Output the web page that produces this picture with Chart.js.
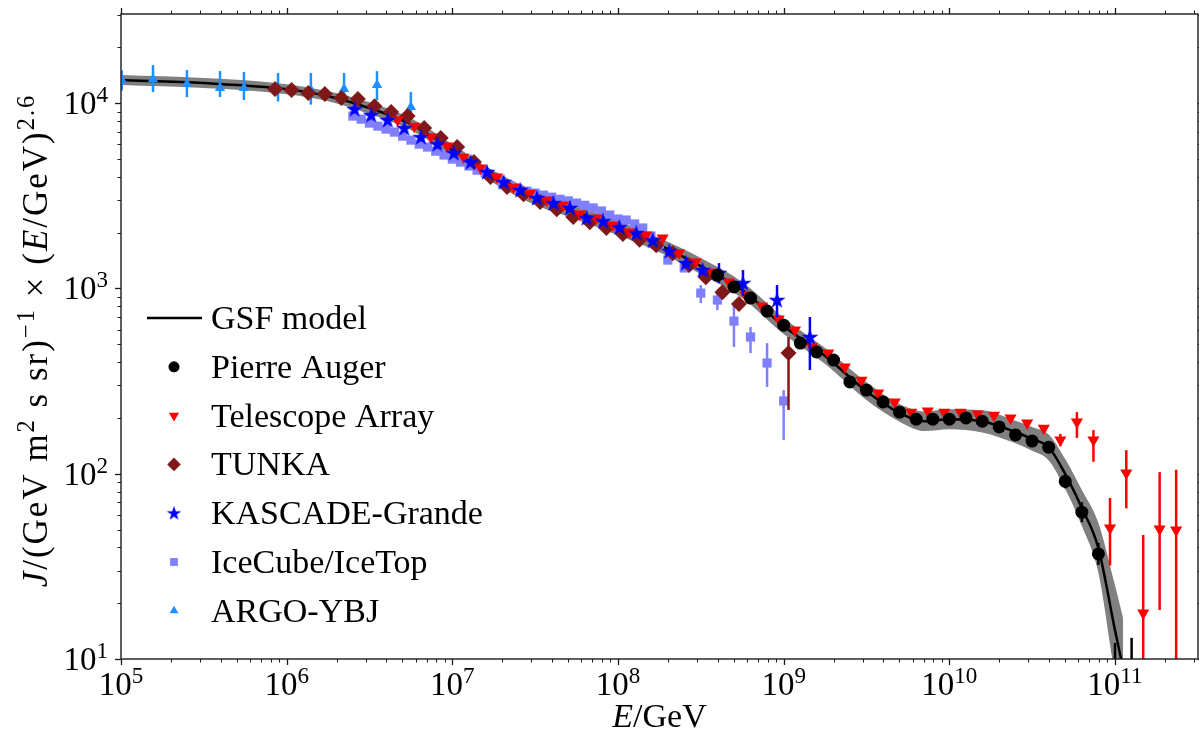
<!DOCTYPE html>
<html>
<head>
<meta charset="utf-8">
<script src="https://cdn.jsdelivr.net/npm/chart.js@4.4.1/dist/chart.umd.min.js"></script>
<style>
  html, body { margin: 0; padding: 0; background: #fff; overflow: hidden; }
  canvas { display: block; }
</style>
</head>
<body>
<canvas id="chart" width="1199" height="735"></canvas>
<script>
// energy E in GeV, flux given as J * E^2.6
const modelE = [1e5, 3.16e5, 1e6, 1.78e6, 3.16e6, 5.62e6, 1e7, 1.78e7, 3.16e7, 5.62e7, 1e8, 1.78e8, 3.16e8, 5.62e8, 1e9,
  1.78e9, 3.16e9, 5.01e9, 7.08e9, 1e10, 1.58e10, 2.51e10, 3.16e10, 3.98e10, 5.01e10, 6.31e10, 7.94e10, 1e11, 1.12e11];
const modelJ = [13330, 12840, 11910, 10910, 9410, 7710, 5580, 3990, 3080, 2580, 2120, 1715, 1321, 980, 627,
  432, 279, 213, 192, 197, 192, 168, 154, 139, 99.6, 65.3, 39.7, 14.3, 8.9];
const modelLo = [12530, 12070, 11190, 10250, 8740, 7160, 5180, 3700, 2820, 2360, 1940, 1570, 1195, 887, 567,
  391, 250, 191, 170, 174, 167, 146, 133, 118, 82.7, 52.2, 29.1, 8.2, 4.8];
const modelHi = [14180, 13660, 12670, 11610, 10130, 8300, 6010, 4300, 3360, 2810, 2310, 1870, 1460, 1083, 693,
  477, 312, 238, 217, 223, 220, 193, 179, 163, 120, 81.7, 54.2, 25.0, 16.6];

const augerE = [3.98e8, 5.01e8, 6.31e8, 7.94e8, 1.00e9, 1.26e9, 1.58e9, 2.00e9, 2.51e9, 3.16e9, 3.98e9, 5.01e9, 6.31e9,
  7.94e9, 1.00e10, 1.26e10, 1.58e10, 2.00e10, 2.51e10, 3.16e10, 3.98e10, 5.01e10, 6.31e10, 7.94e10, 1.00e11, 1.26e11];
const augerJ = [1180, 1019, 887, 755, 634, 507, 454, 411, 313, 283, 244, 215, 197,
  197, 197, 200, 192, 179, 162, 150, 139, 91, 62, 36.9, 7, 6];
const augerLo = Array(21).fill(null).concat([83.4, 54.8, 32.2, 3, 3]);
const augerHi = Array(21).fill(null).concat([99.3, 70.2, 42.3, 12.2, 13]);

const taE = [4.68e6, 5.89e6, 7.41e6, 9.33e6, 1.17e7, 1.48e7, 1.86e7, 2.34e7, 2.95e7, 3.72e7, 4.68e7, 5.89e7, 7.41e7, 9.33e7,
  1.17e8, 1.48e8, 1.86e8, 2.34e8, 2.95e8, 3.72e8, 4.68e8, 5.89e8, 7.41e8, 9.33e8, 1.17e9, 1.48e9, 1.86e9, 2.34e9,
  2.95e9, 3.72e9, 4.68e9, 5.89e9, 7.41e9, 9.33e9, 1.17e10, 1.48e10, 1.86e10, 2.34e10, 2.95e10, 3.72e10, 4.68e10,
  5.89e10, 7.41e10, 9.33e10, 1.17e11, 1.48e11, 1.86e11, 2.34e11];
const taJ = [8110, 7520, 6560, 5870, 5110, 4470, 3990, 3520, 3270, 3000, 2820, 2520, 2400, 2200,
  2015, 1942, 1871, 1553, 1388, 1225, 1083, 921, 803, 684, 597, 483, 448, 377,
  320, 273, 244, 215, 218, 215, 215, 210, 207, 200, 188, 176, 152,
  190, 152, 51, 101, 17.7, 50.3, 49.7];
const taLo = Array(40).fill(null).concat([141, 156, 116, 32, 65, 1, 18.4, 1]);
const taHi = Array(40).fill(null).concat([164, 215, 172, 74, 134, 46.7, 102, 105]);

const tunkaE = [8.51e5, 1.07e6, 1.35e6, 1.70e6, 2.14e6, 2.69e6, 3.39e6, 4.27e6, 5.37e6, 6.76e6, 8.51e6, 1.07e7, 1.35e7,
  1.70e7, 2.14e7, 2.69e7, 3.39e7, 4.27e7, 5.37e7, 6.76e7, 8.51e7, 1.07e8, 1.35e8, 1.70e8, 2.14e8, 2.69e8, 3.39e8,
  4.27e8, 5.37e8, 1.07e9];
const tunkaJ = [11920, 11780, 11350, 11200, 10660, 10520, 9640, 8950, 8520, 7340, 6480, 5800, 4820,
  4000, 3530, 3230, 2930, 2680, 2430, 2280, 2120, 1970, 1830, 1710, 1550, 1340, 1150,
  955, 824, 448];
const tunkaLo = Array(29).fill(null).concat([221]);
const tunkaHi = Array(29).fill(null).concat([547]);

const kgE = [2.57e6, 3.24e6, 4.07e6, 5.13e6, 6.46e6, 8.13e6, 1.02e7, 1.29e7, 1.62e7, 2.04e7, 2.57e7, 3.24e7, 4.07e7,
  5.13e7, 6.46e7, 8.13e7, 1.02e8, 1.29e8, 1.62e8, 2.04e8, 2.57e8, 3.24e8, 4.07e8, 5.68e8, 9.12e8, 1.44e9];
const kgJ = [9290, 8630, 8110, 7340, 6560, 6010, 5380, 4810, 4250, 3750, 3400, 3080, 2890,
  2720, 2400, 2310, 2140, 1990, 1820, 1590, 1370, 1257, 1211, 1069, 866, 547];
const kgLo = Array(22).fill(null).concat([1069, 910, 701, 363]);
const kgHi = Array(22).fill(null).concat([1371, 1257, 1043, 701]);

const icE = [2.51e6, 2.82e6, 3.16e6, 3.55e6, 3.98e6, 4.47e6, 5.01e6, 5.62e6, 6.31e6, 7.08e6,
  7.94e6, 8.91e6, 1.00e7, 1.12e7, 1.26e7, 1.41e7, 1.58e7, 1.78e7, 2.00e7, 2.24e7,
  2.51e7, 2.82e7, 3.16e7, 3.55e7, 3.98e7, 4.47e7, 5.01e7, 5.62e7, 6.31e7, 7.08e7,
  7.94e7, 8.91e7, 1.00e8, 1.12e8, 1.26e8, 1.41e8, 1.58e8, 1.78e8, 2.00e8, 2.51e8,
  3.16e8, 3.98e8, 5.01e8, 6.31e8, 7.94e8, 1.00e9];
const icJ = [8520, 8200, 7810, 7520, 7250, 6980, 6640, 6320, 6010, 5800,
  5510, 5250, 4990, 4810, 4580, 4350, 4200, 3990, 3710, 3570,
  3440, 3350, 3270, 3190, 3110, 3030, 2970, 2890, 2810, 2720,
  2620, 2490, 2370, 2340, 2230, 2120, 1919, 1738, 1423, 1290,
  944, 866, 667, 547, 396, 247];
const icLo = Array(40).fill(null).concat([834, 764, 483, 448, 294, 152]);
const icHi = Array(40).fill(null).concat([1043, 944, 813, 619, 507, 283]);

const argoE = [1.01e5, 1.56e5, 2.50e5, 3.96e5, 5.52e5, 8.87e5, 1.40e6, 2.22e6, 3.51e6, 5.62e6];
const argoJ = [13330, 13490, 12680, 12060, 12060, 12210, 11770, 11920, 12530, 9530];
const argoLo = [11700, 11480, 10790, 10790, 10390, 10220, 9820, 10390, 10390, 8630];
const argoHi = [15000, 16060, 15090, 14900, 14720, 14550, 14550, 14550, 14900, 11480];

const xTickPowers = [5, 6, 7, 8, 9, 10, 11];
const yTickPowers = [1, 2, 3, 4];
const legendLabels = ['GSF model', 'Pierre Auger', 'Telescope Array', 'TUNKA', 'KASCADE-Grande', 'IceCube/IceTop', 'ARGO-YBJ'];

const SERIF = '"Liberation Serif", "Times New Roman", "DejaVu Serif", serif';
const INK = '#1a1a1a';

function starImage(size, color) {
  const c = document.createElement('canvas');
  c.width = c.height = size;
  const g = c.getContext('2d');
  const R = size / 2, r = R * 0.382;
  g.beginPath();
  for (let i = 0; i < 10; i++) {
    const a = -Math.PI / 2 + i * Math.PI / 5;
    const rr = i % 2 ? r : R;
    g.lineTo(R + rr * Math.cos(a), R + 0.5 + rr * Math.sin(a));
  }
  g.closePath();
  g.fillStyle = color;
  g.fill();
  return c;
}

const markers = {
  auger: { style: 'circle', radius: 6.5, color: '#000000' },
  ta: { style: 'triangle', rotation: 180, radius: 7, color: '#ff0000' },
  tunka: { style: 'rectRot', radius: 8, color: '#7f1919' },
  kg: { style: 'image', image: starImage(18, '#0000ff'), radius: 8, color: '#0000ff' },
  ic: { style: 'rect', radius: 6.5, color: '#8080ff' },
  argo: { style: 'triangle', rotation: 0, radius: 6, color: '#1e90ff' }
};

function pts(E, J) { return E.map((e, i) => ({ x: e, y: J[i] })); }

function scatterSet(label, E, J, lo, hi, m, order) {
  return {
    label, data: pts(E, J), errLo: lo, errHi: hi, order,
    backgroundColor: m.color, borderColor: m.color,
    pointStyle: m.style === 'image' ? m.image : m.style,
    pointRotation: m.rotation || 0, pointRadius: m.radius, pointBorderWidth: 0,
    clip: 0
  };
}

const errorBars = {
  id: 'errorBars',
  beforeDatasetDraw(chart, args) {
    const ds = chart.data.datasets[args.index];
    if (!ds.errLo) return;
    const { ctx, chartArea: a, scales: { x, y } } = chart;
    ctx.save();
    ctx.beginPath();
    ctx.rect(a.left, a.top, a.right - a.left, a.bottom - a.top);
    ctx.clip();
    ctx.strokeStyle = ds.backgroundColor;
    ctx.lineWidth = 2.5;
    ds.data.forEach((p, i) => {
      const lo = ds.errLo[i], hi = ds.errHi[i];
      if (lo == null || hi == null) return;
      const px = x.getPixelForValue(p.x);
      ctx.beginPath();
      ctx.moveTo(px, y.getPixelForValue(lo));
      ctx.lineTo(px, y.getPixelForValue(hi));
      ctx.stroke();
    });
    ctx.restore();
  }
};

function font(size, italic) { return (italic ? 'italic ' : '') + size + 'px ' + SERIF; }
function richWidth(ctx, segs, size) {
  let w = 0;
  segs.forEach(s => { ctx.font = font(s.sup ? size * 0.7 : size, s.it); w += ctx.measureText(s.t).width; });
  return w;
}
function drawRich(ctx, segs, x, y, size) {
  ctx.textAlign = 'left';
  ctx.textBaseline = 'alphabetic';
  segs.forEach(s => {
    ctx.font = font(s.sup ? size * 0.7 : size, s.it);
    ctx.fillText(s.t, x, s.sup ? y - size * 0.37 : y);
    x += ctx.measureText(s.t).width;
  });
}
function powerLabel(p) { return [{ t: '10' }, { t: String(p), sup: true }]; }

function drawMarker(ctx, m, x, y, k) {
  ctx.fillStyle = m.color;
  if (m.style === 'image') {
    const w = m.image.width * k;
    ctx.drawImage(m.image, x - w / 2, y - w / 2, w, w);
    return;
  }
  const r = m.radius * k;
  ctx.beginPath();
  if (m.style === 'circle') {
    ctx.arc(x, y, r, 0, Math.PI * 2);
  } else if (m.style === 'triangle') {
    const s = m.rotation === 180 ? -1 : 1;
    ctx.moveTo(x, y - s * r);
    ctx.lineTo(x + r * 0.866, y + s * r * 0.5);
    ctx.lineTo(x - r * 0.866, y + s * r * 0.5);
    ctx.closePath();
  } else if (m.style === 'rectRot') {
    ctx.moveTo(x, y - r); ctx.lineTo(x + r, y); ctx.lineTo(x, y + r); ctx.lineTo(x - r, y);
    ctx.closePath();
  } else {
    const h = r * Math.SQRT1_2;
    ctx.rect(x - h, y - h, 2 * h, 2 * h);
  }
  ctx.fill();
}

const frame = {
  id: 'frame',
  afterDraw(chart) {
    const { ctx, chartArea: a, scales: { x, y } } = chart;
    ctx.save();
    ctx.strokeStyle = INK;
    ctx.fillStyle = '#000';

    // ticks, pointing out on all four sides
    const tick = (x1, y1, x2, y2, w) => { ctx.lineWidth = w; ctx.beginPath(); ctx.moveTo(x1, y1); ctx.lineTo(x2, y2); ctx.stroke(); };
    for (let p = 5; p <= 11; p++) {
      for (let m = 1; m <= 9; m++) {
        const v = m * Math.pow(10, p);
        if (v < x.min || v > x.max) continue;
        const px = Math.round(x.getPixelForValue(v)) + 0.5;
        const len = m === 1 ? 6 : 3.5;
        tick(px, a.bottom, px, a.bottom + len, m === 1 ? 1.3 : 1);
        tick(px, a.top, px, a.top - len, m === 1 ? 1.3 : 1);
      }
    }
    for (let p = 1; p <= 4; p++) {
      for (let m = 1; m <= 9; m++) {
        const v = m * Math.pow(10, p);
        if (v < y.min || v > y.max) continue;
        const py = Math.round(y.getPixelForValue(v)) + 0.5;
        const len = m === 1 ? 6 : 3.5;
        tick(a.left, py, a.left - len, py, m === 1 ? 1.3 : 1);
        tick(a.right, py, a.right + len, py, m === 1 ? 1.3 : 1);
      }
    }
    ctx.lineWidth = 1.4;
    ctx.strokeRect(a.left, a.top, a.right - a.left, a.bottom - a.top);

    // tick labels
    xTickPowers.forEach(p => {
      const segs = powerLabel(p);
      const w = richWidth(ctx, segs, 33);
      drawRich(ctx, segs, x.getPixelForValue(Math.pow(10, p)) - w / 2, a.bottom + 36, 33);
    });
    yTickPowers.forEach(p => {
      const segs = powerLabel(p);
      const w = richWidth(ctx, segs, 33);
      drawRich(ctx, segs, a.left - 13 - w, y.getPixelForValue(Math.pow(10, p)) + 11, 33);
    });

    // axis titles
    const xt = [{ t: 'E', it: true }, { t: '/GeV' }];
    const xw = richWidth(ctx, xt, 34);
    drawRich(ctx, xt, (a.left + a.right) / 2 - xw / 2, 727, 34);

    const yt = [{ t: 'J', it: true }, { t: '/(GeV m' }, { t: '2', sup: true }, { t: ' s sr)' },
      { t: '\u22121', sup: true }, { t: ' \u00d7 (' }, { t: 'E', it: true }, { t: '/GeV)' }, { t: '2.6', sup: true }];
    ctx.save();
    ctx.translate(47, (a.top + a.bottom) / 2 + 4);
    ctx.rotate(-Math.PI / 2);
    ctx.letterSpacing = '2px';
    const yw = richWidth(ctx, yt, 35);
    drawRich(ctx, yt, -yw / 2, 0, 35);
    ctx.restore();

    // legend
    const legMarkers = [null, markers.auger, markers.ta, markers.tunka, markers.kg, markers.ic, markers.argo];
    legendLabels.forEach((lab, i) => {
      const yc = 318 + i * 48.8;
      if (i === 0) {
        ctx.strokeStyle = '#000';
        ctx.lineWidth = 2.5;
        ctx.beginPath(); ctx.moveTo(147, yc); ctx.lineTo(202, yc); ctx.stroke();
      } else {
        drawMarker(ctx, legMarkers[i], 174, yc, 0.85);
      }
      ctx.fillStyle = '#000';
      ctx.font = font(34, false);
      ctx.textAlign = 'left';
      ctx.textBaseline = 'alphabetic';
      ctx.fillText(lab, 211, yc + 11);
    });
    ctx.restore();
  }
};

const data = {
  datasets: [
    scatterSet('Pierre Auger', augerE, augerJ, augerLo, augerHi, markers.auger, 1),
    scatterSet('Telescope Array', taE, taJ, taLo, taHi, markers.ta, 3),
    scatterSet('TUNKA', tunkaE, tunkaJ, tunkaLo, tunkaHi, markers.tunka, 4),
    scatterSet('KASCADE-Grande', kgE, kgJ, kgLo, kgHi, markers.kg, 2),
    scatterSet('IceCube/IceTop', icE, icJ, icLo, icHi, markers.ic, 5),
    scatterSet('ARGO-YBJ', argoE, argoJ, argoLo, argoHi, markers.argo, 6),
    {
      type: 'line', label: 'GSF model', data: pts(modelE, modelJ), order: 7,
      borderColor: '#000', borderWidth: 2.5, pointRadius: 0, fill: false,
      cubicInterpolationMode: 'monotone', clip: 0
    },
    {
      type: 'line', label: 'band hi', data: pts(modelE, modelHi), order: 8,
      borderWidth: 0, pointRadius: 0, backgroundColor: 'rgb(128,128,128)', fill: '+1',
      cubicInterpolationMode: 'monotone', clip: 0
    },
    {
      type: 'line', label: 'band lo', data: pts(modelE, modelLo), order: 9,
      borderWidth: 0, pointRadius: 0, fill: false,
      cubicInterpolationMode: 'monotone', clip: 0
    }
  ]
};

const config = {
  type: 'scatter',
  data,
  options: {
    responsive: false,
    animation: false,
    events: [],
    layout: { autoPadding: false, padding: { left: 121, top: 14, right: 1, bottom: 76 } },
    plugins: { legend: { display: false }, tooltip: { enabled: false } },
    scales: {
      x: { type: 'logarithmic', min: 1e5, max: 3.17e11, display: false },
      y: { type: 'logarithmic', min: 10, max: 3.03e4, display: false }
    }
  },
  plugins: [errorBars, frame]
};

new Chart(document.getElementById('chart'), config);
</script>
</body>
</html>
